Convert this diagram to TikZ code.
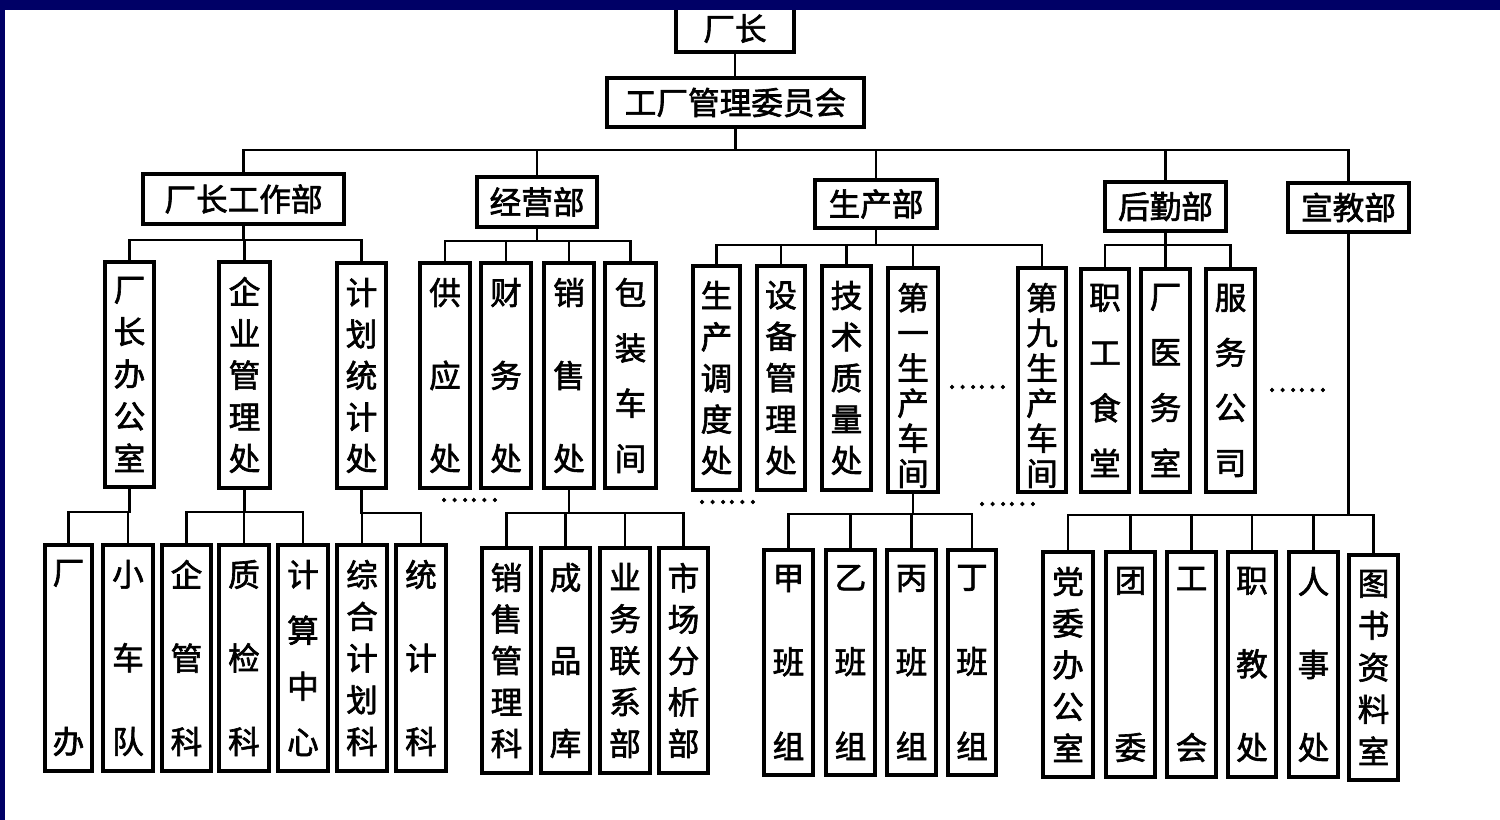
\documentclass[tikz,border=0pt]{standalone}
\usepackage{fontspec}
\newfontfamily\cjk[FakeBold=2]{Noto Sans CJK SC}
\definecolor{navy}{RGB}{0,0,102}
\newlength\vtlen
\ExplSyntaxOn
\NewDocumentCommand\vt{mm}{\parbox[c][#1][s]{1.3em}{\centering\tl_map_inline:nn{#2}{##1\par\vfill}\vskip0pt plus-1fill}}
\ExplSyntaxOff
\tikzset{
  box/.style={draw, line width=1.9pt, inner sep=0pt, fill=white, font=\cjk\fontsize{18}{20}\selectfont},
  ln/.style={line width=1.6pt},
  ell/.style={inner sep=0pt, font=\cjk\fontsize{16}{16}\selectfont}
}
\newcommand\hnode[6]{\node[box, minimum width={(#4-#2)*0.02cm}, minimum height={(#5-#3)*0.02cm}] (#1) at ({(#2+#4)/2},{(#3+#5)/2}) {#6};}
\newcommand\vnode[6]{\pgfmathsetlength\vtlen{(#5-#3-30)*0.02cm}\node[box, minimum width={(#4-#2)*0.02cm}, minimum height={(#5-#3)*0.02cm}] (#1) at ({(#2+#4)/2},{(#3+#5)/2}) {\vt{\vtlen}{#6}};}
\newcommand\tree[3]{\foreach \c in {#3}{\draw[ln] (#1.south) -- (#1.south |- 0,#2) -| (\c.north);}}
\begin{document}
\begin{tikzpicture}[x=0.02cm, y=-0.02cm]
\useasboundingbox (0,0) rectangle (1500,820);
\fill[white] (0,0) rectangle (1500,820);
% top
\hnode{cz}{676}{5}{794}{52}{厂长}
\hnode{wy}{607}{78}{864}{127}{工厂管理委员会}
% departments
\hnode{gzb}{143}{174}{344}{224}{厂长工作部}
\hnode{jyb}{477}{177}{597}{227}{经营部}
\hnode{scb}{815}{180}{937}{228}{生产部}
\hnode{hqb}{1105}{182}{1226}{231}{后勤部}
\hnode{xjb}{1288}{183}{1409}{232}{宣教部}
% level 2
\vnode{zb}{105}{262}{154}{487}{厂长办公室}
\vnode{qy}{219}{262}{270}{488}{企业管理处}
\vnode{jh}{337}{263}{386}{488}{计划统计处}
\vnode{gy}{420}{263}{470}{488}{供应处}
\vnode{cw}{481}{263}{531}{488}{财务处}
\vnode{xs}{544}{263}{594}{488}{销售处}
\vnode{bz}{605}{263}{656}{488}{包装车间}
\vnode{dd}{693}{266}{740}{490}{生产调度处}
\vnode{sb}{757}{266}{805}{490}{设备管理处}
\vnode{jszl}{822}{266}{871}{490}{技术质量处}
\vnode{d1}{888}{268}{938}{492}{第一生产车间}
\vnode{d9}{1018}{268}{1066}{492}{第九生产车间}
\vnode{st}{1081}{269}{1129}{492}{职工食堂}
\vnode{yw}{1141}{269}{1190}{492}{厂医务室}
\vnode{fw}{1206}{269}{1255}{492}{服务公司}
% level 3
\vnode{cb}{45}{545}{92}{771}{厂办}
\vnode{xc}{103}{545}{153}{771}{小车队}
\vnode{qg}{162}{545}{211}{771}{企管科}
\vnode{zj}{219}{545}{269}{771}{质检科}
\vnode{jszx}{278}{545}{328}{771}{计算中心}
\vnode{zh}{337}{545}{387}{771}{综合计划科}
\vnode{tj}{396}{545}{446}{771}{统计科}
\vnode{xg}{482}{548}{531}{773}{销售管理科}
\vnode{cp}{541}{548}{590}{773}{成品库}
\vnode{yl}{600}{548}{650}{773}{业务联系部}
\vnode{sc}{659}{548}{708}{773}{市场分析部}
\vnode{ja}{764}{550}{813}{775}{甲班组}
\vnode{yi}{826}{550}{875}{775}{乙班组}
\vnode{bi}{887}{550}{936}{775}{丙班组}
\vnode{di}{948}{550}{996}{775}{丁班组}
\vnode{dw}{1043}{552}{1093}{777}{党委办公室}
\vnode{tw}{1106}{552}{1155}{777}{团委}
\vnode{gh}{1167}{552}{1216}{777}{工会}
\vnode{zjc}{1228}{552}{1276}{777}{职教处}
\vnode{rs}{1289}{552}{1338}{777}{人事处}
\vnode{ts}{1349}{555}{1398}{780}{图书资料室}
% ellipses
\node[ell] (e1) at (469,500) {……};
\node[ell] (e2) at (727,502) {……};
\node[ell] (e3) at (977,387) {……};
\node[ell] (e4) at (1007,504) {……};
\node[ell] (e5) at (1297,390) {……};
% connectors
\draw[ln] (cz.south) -- (cz.south |- wy.north);
\tree{wy}{150}{gzb,jyb,scb,hqb,xjb}
\tree{gzb}{240}{zb,qy,jh}
\tree{jyb}{241}{gy,cw,xs,bz}
\tree{scb}{245}{dd,sb,jszl,d1,d9}
\tree{hqb}{245}{st,yw,fw}
\tree{zb}{512}{cb,xc}
\tree{qy}{512}{qg,zj,jszx}
\tree{jh}{513}{zh,tj}
\tree{xs}{513}{xg,cp,yl,sc}
\tree{d1}{514}{ja,yi,bi,di}
\tree{xjb}{515}{dw,tw,gh,zjc,rs,ts}
% frame bands
\fill[navy] (0,0) rectangle (1500,10);
\fill[navy] (0,0) rectangle (5,820);
\end{tikzpicture}
\end{document}
